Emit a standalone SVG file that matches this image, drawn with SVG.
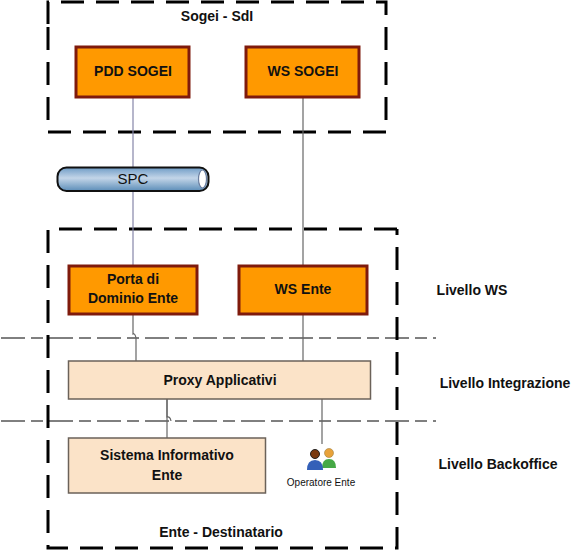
<svg xmlns="http://www.w3.org/2000/svg" width="581" height="552" viewBox="0 0 581 552">
<defs>
<linearGradient id="pipe" x1="0" y1="0" x2="0" y2="1"><stop offset="0" stop-color="#6f9cc6"/><stop offset="0.45" stop-color="#c3d5e8"/><stop offset="1" stop-color="#5b8db8"/></linearGradient>
</defs>
<style>
text{font-family:"Liberation Sans",Arial,sans-serif;fill:#111;text-anchor:middle}
.b{font-weight:bold;font-size:14px}
.zone{fill:none;stroke:#000;stroke-width:3;stroke-dasharray:23 12}
.org{fill:#ff9900;stroke:#7f1a0c;stroke-width:3}
.pch{fill:#fbe3c8;stroke:#6b6259;stroke-width:1.5}
.lvl{fill:none;stroke:#000;stroke-width:1;stroke-dasharray:24 6 12 6}
.c{fill:none;stroke:#666;stroke-width:1.2}
.c2{fill:none;stroke:#8585a8;stroke-width:1.2}
</style>
<g id="zones">
<path class="zone" d="M48 24V2H386V132H48V24"/>
<path class="zone" d="M397 229H48V548H397V229"/>
</g>
<g id="levels">
<path class="lvl" d="M1 338H436"/>
<path class="lvl" d="M1 421H436"/>
</g>
<g id="connectors">
<path class="c2" d="M133 97V265"/>
<path class="c" d="M303 97V265"/>
<path class="c" d="M133 315V334q2-1 3 4V361"/>
<path class="c" d="M303 314V361"/>
<path class="c" d="M167 399V417q3-1 4 4"/>
<path class="c" d="M167 399V438"/>
<path class="c" d="M322 399V444"/>
</g>
<g id="spc">
<rect x="57.500" y="167.500" width="151" height="23.500" rx="9" fill="url(#pipe)" stroke="#111" stroke-width="2"/>
<ellipse cx="202.500" cy="179" rx="4" ry="9" fill="#fff" stroke="#6c7fa0" stroke-width="1.200"/>
<text x="133" y="184" font-size="15">SPC</text>
</g>
<g id="pdd-sogei"><rect class="org" x="76" y="47" width="113" height="50"/><text class="b" x="133" y="75.500">PDD SOGEI</text></g>
<g id="ws-sogei"><rect class="org" x="246" y="47" width="113" height="50"/><text class="b" x="303" y="75.500">WS SOGEI</text></g>
<g id="porta"><rect class="org" x="69" y="266" width="128" height="48"/><text class="b" x="133" y="284">Porta di</text><text class="b" x="133" y="303">Dominio Ente</text></g>
<g id="ws-ente"><rect class="org" x="239" y="266" width="128" height="48"/><text class="b" x="303" y="294">WS Ente</text></g>
<g id="proxy"><rect class="pch" x="68.500" y="361" width="302" height="38"/><text class="b" x="220" y="385">Proxy Applicativi</text></g>
<g id="sistema"><rect class="pch" x="68.500" y="438" width="197" height="55"/><text class="b" x="167" y="460">Sistema Informativo</text><text class="b" x="167" y="480">Ente</text></g>
<g id="operatore">
<circle cx="329" cy="453" r="4.500" fill="#e8a23a" stroke="#a08040" stroke-width="0.600"/>
<path d="M322 468q0-9 7-9t7 9Z" fill="#45a845"/>
<circle cx="315" cy="454" r="4.500" fill="#7a3a10" stroke="#222" stroke-width="1"/>
<path d="M307 470q0-10 8-10t8 10Z" fill="#3460b8"/>
<text x="321" y="486" font-size="10" font-family="'DejaVu Sans',sans-serif">Operatore Ente</text>
</g>
<g id="labels">
<text class="b" x="217" y="21">Sogei - SdI</text>
<text class="b" x="221" y="537">Ente - Destinatario</text>
<text class="b" x="472" y="295">Livello WS</text>
<text class="b" x="505" y="388">Livello Integrazione</text>
<text class="b" x="498" y="469">Livello Backoffice</text>
</g>
</svg>
